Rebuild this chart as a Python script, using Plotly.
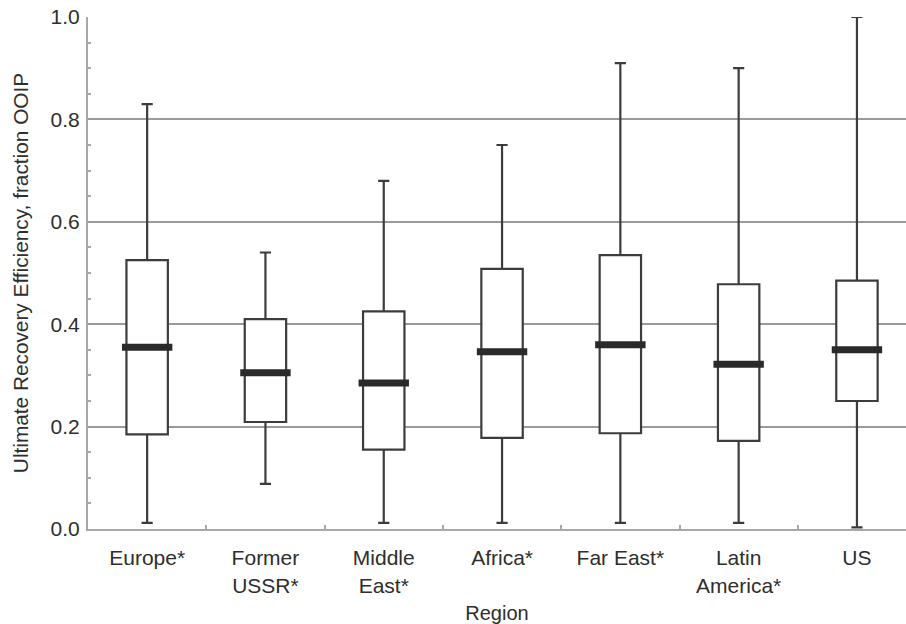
import plotly.graph_objects as go

# Ultimate recovery efficiency by region (fraction of OOIP)
regions = ["Europe*", "Former<br>USSR*", "Middle<br>East*", "Africa*",
           "Far East*", "Latin<br>America*", "US"]
low = [0.012, 0.088, 0.012, 0.012, 0.012, 0.012, 0.003]
q1 = [0.185, 0.209, 0.155, 0.178, 0.187, 0.172, 0.250]
median = [0.355, 0.305, 0.285, 0.346, 0.360, 0.322, 0.350]
q3 = [0.525, 0.410, 0.425, 0.508, 0.535, 0.478, 0.485]
high = [0.830, 0.540, 0.680, 0.750, 0.910, 0.900, 1.000]

pos = list(range(len(regions)))
box_w = 0.35
dark = "#3c3c3c"
grid = "#9a9a9a"
txt = "#2e2e2e"
font = "Liberation Sans, Arial, Helvetica, sans-serif"

fig = go.Figure()
fig.add_trace(go.Box(
    x=pos, q1=q1, median=median, q3=q3, lowerfence=low, upperfence=high,
    width=box_w, whiskerwidth=0.27, boxpoints=False,
    fillcolor="white", line=dict(color=dark, width=2.2),
    showlegend=False, hoverinfo="skip",
))
# heavy median bars
fig.add_trace(go.Scatter(
    x=pos, y=median, mode="markers", showlegend=False, hoverinfo="skip",
    marker=dict(symbol="line-ew", size=36, color="#2a2a2a",
                line=dict(color="#2a2a2a", width=7)),
))

fig.update_layout(
    width=906, height=624,
    margin=dict(l=88, r=0, t=17, b=95),
    paper_bgcolor="white", plot_bgcolor="white",
    font=dict(family=font, size=21, color=txt),
    xaxis=dict(
        range=[-0.5, -0.5 + 818 / 118.3], automargin=False,
        tickmode="array", tickvals=pos, ticktext=regions,
        ticks="", showgrid=False, zeroline=False,
        showline=True, linecolor="#a8a8a8", linewidth=2,
        tickfont=dict(size=21, color=txt), ticklabelstandoff=9,
        minor=dict(tickmode="array", tickvals=[p + 0.5 for p in pos[:-1]],
                   ticks="inside", ticklen=4, tickcolor="#a8a8a8", tickwidth=1.5,
                   showgrid=False),
        title=dict(text="Region", font=dict(size=20, color=txt), standoff=14),
    ),
    yaxis=dict(
        range=[0, 1], tickmode="linear", tick0=0, dtick=0.2, tickformat=".1f",
        automargin=False,
        ticks="", showgrid=True, gridcolor=grid, gridwidth=1.5, zeroline=False,
        showline=True, linecolor="#a8a8a8", linewidth=2,
        tickfont=dict(size=21, color=txt), ticklabelstandoff=2,
        minor=dict(dtick=0.05, ticks="inside", ticklen=3, tickcolor="#a8a8a8",
                   tickwidth=1.5, showgrid=False),
        title=dict(text="Ultimate Recovery Efficiency, fraction OOIP",
                   font=dict(size=20.8, color=txt), standoff=16),
    ),
)

fig.write_html("out.html")
